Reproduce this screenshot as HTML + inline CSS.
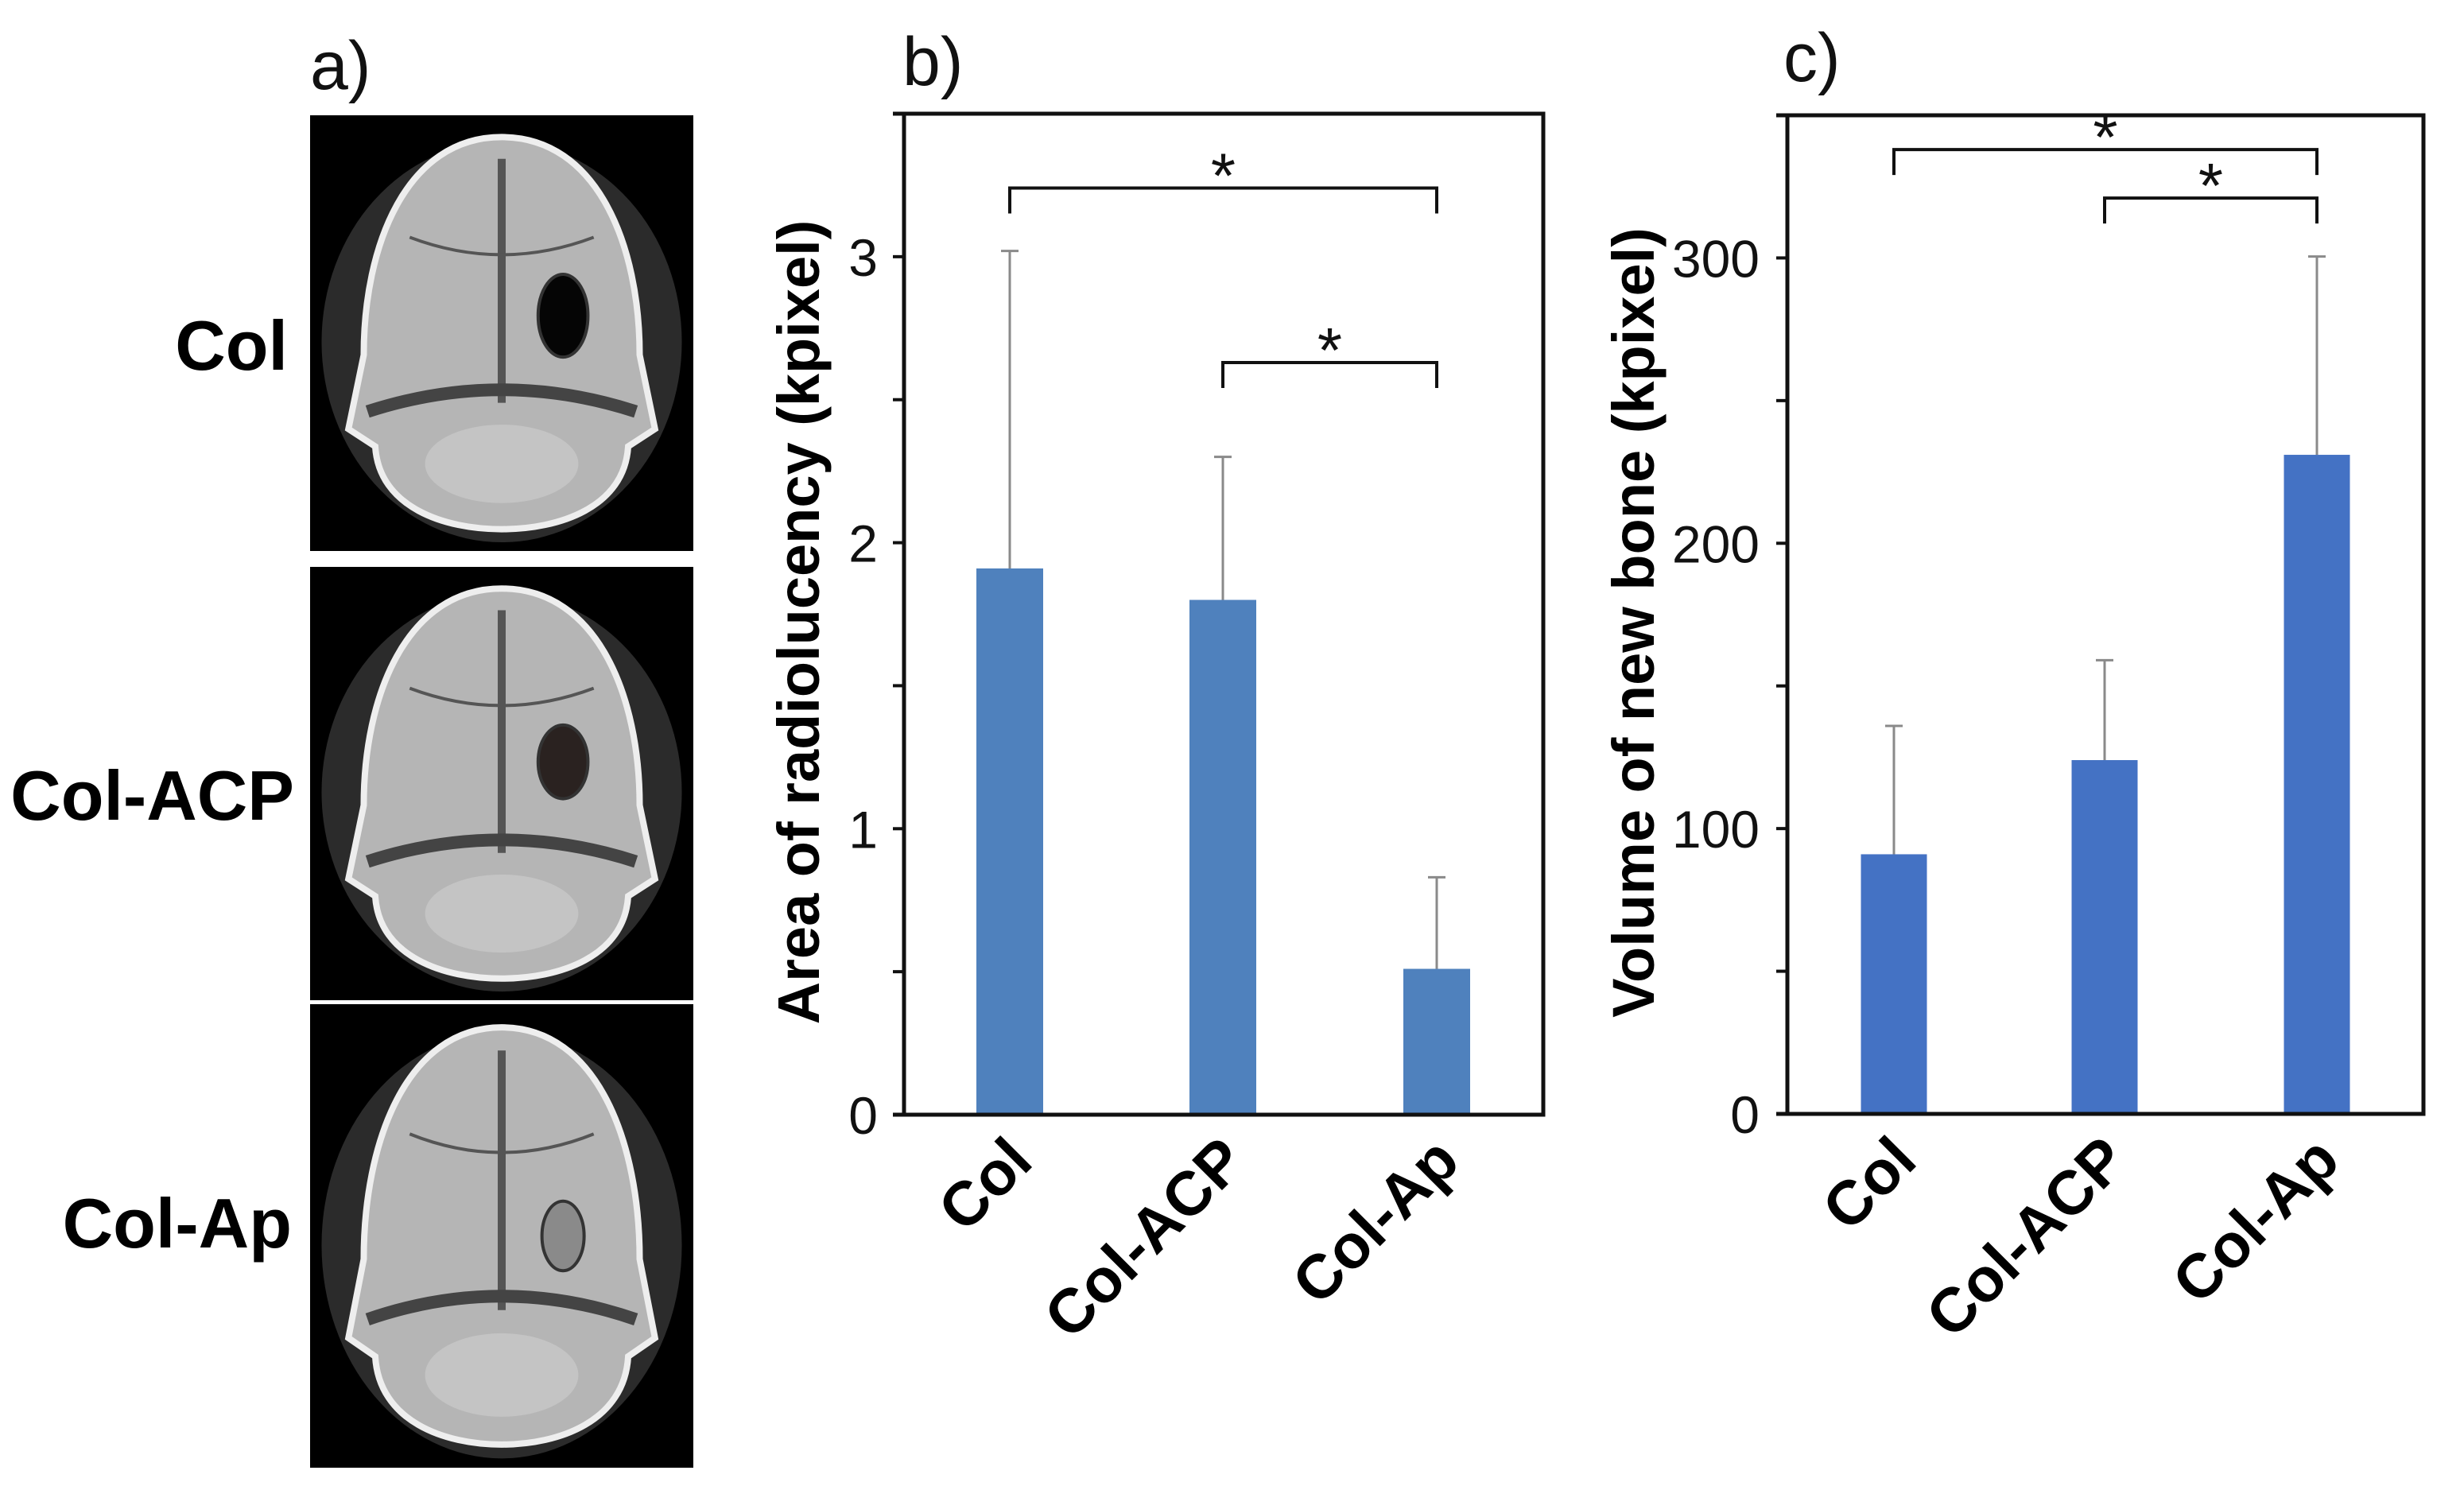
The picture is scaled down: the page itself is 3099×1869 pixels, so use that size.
<!DOCTYPE html>
<html><head><meta charset="utf-8"><style>
html,body{margin:0;padding:0;background:#fff;}
svg{display:block;}
text{font-family:"Liberation Sans",Arial,sans-serif;}
</style></head><body>
<svg id="fig" width="3099" height="1869" viewBox="0 0 3099 1869" xmlns="http://www.w3.org/2000/svg">
<rect width="3099" height="1869" fill="#fff"/>
<g id="panelA">
  <text x="390" y="112" font-size="86" fill="#111">a)</text>
  <text x="362" y="465" font-size="88" font-weight="bold" text-anchor="end" fill="#000">Col</text>
  <text x="370" y="1031" font-size="88" font-weight="bold" text-anchor="end" fill="#000">Col-ACP</text>
  <text x="367" y="1569" font-size="88" font-weight="bold" text-anchor="end" fill="#000">Col-Ap</text>
</g>
<g id="chartB"></g>
<g id="chartC"></g>
</svg>
<script>
const NS='http://www.w3.org/2000/svg';
function mk(tag,attrs,parent){const e=document.createElementNS(NS,tag);for(const k in attrs)e.setAttribute(k,attrs[k]);parent.appendChild(e);return e;}

// ---- photos (panel a) ----
const photoBoxes=[[390,145,482,548,'photo-col',0.66,0.46,0.13,0.19,'#050505'],[390,713,482,545,'photo-col-acp',0.66,0.45,0.13,0.17,'#2a2220'],[390,1263,482,583,'photo-col-ap',0.66,0.50,0.11,0.15,'#8a8a8a']];
const pa=document.getElementById('panelA');
photoBoxes.forEach(p=>{
  const [x,y,w,h,name,hx,hy,hw,hh,hc]=p;
  const g=mk('g',{transform:`translate(${x},${y})`},pa);
  
  
  mk('rect',{x:0,y:0,width:w,height:h,fill:'#000'},g);
  mk('ellipse',{cx:w*0.5,cy:h*0.52,rx:w*0.47,ry:h*0.46,fill:'#2b2b2b'},g);
  const d=`M${w*0.5},${h*0.05} C${w*0.75},${h*0.05} ${w*0.86},${h*0.3} ${w*0.86},${h*0.55} L${w*0.9},${h*0.72} L${w*0.83},${h*0.76} C${w*0.82},${h*0.9} ${w*0.65},${h*0.95} ${w*0.5},${h*0.95} C${w*0.35},${h*0.95} ${w*0.18},${h*0.9} ${w*0.17},${h*0.76} L${w*0.1},${h*0.72} L${w*0.14},${h*0.55} C${w*0.14},${h*0.3} ${w*0.25},${h*0.05} ${w*0.5},${h*0.05} Z`;
  mk('path',{d:d,fill:'#b5b5b5',stroke:'#eee','stroke-width':8},g);
  mk('path',{d:`M${w*0.5},${h*0.1} L${w*0.5},${h*0.66}`,stroke:'#555','stroke-width':10,fill:'none'},g);
  mk('path',{d:`M${w*0.26},${h*0.28} Q${w*0.5},${h*0.36} ${w*0.74},${h*0.28}`,stroke:'#555','stroke-width':4,fill:'none'},g);
  mk('path',{d:`M${w*0.15},${h*0.68} Q${w*0.5},${h*0.58} ${w*0.85},${h*0.68}`,stroke:'#444','stroke-width':16,fill:'none'},g);
  mk('ellipse',{cx:w*0.5,cy:h*0.8,rx:w*0.2,ry:h*0.09,fill:'#c4c4c4'},g);
  mk('ellipse',{cx:w*hx,cy:h*hy,rx:w*hw/2,ry:h*hh/2,fill:hc,stroke:'#333','stroke-width':4},g);
});

// ---- chart b data ----
const catsB=['Col','Col-ACP','Col-Ap'];
const valsB=[1.91,1.80,0.51];
const errB=[3.02,2.30,0.83];
const ticksB=[0,1,2,3];
const minorB=[0.5,1.5,2.5];
const sigB=[[0,2,3.24,'*'],[1,2,2.63,'*']];

// ---- chart c data ----
const catsC=['Col','Col-ACP','Col-Ap'];
const valsC=[91,124,231];
const errC=[136,159,300.5];
const ticksC=[0,100,200,300];
const minorC=[50,150,250];
const sigC=[[0,2,338,'*'],[1,2,321,'*']];

function drawChart(gid,cfg){
  const g=document.getElementById(gid);
  const {left,right,top,bottom,ymax,cats,vals,errs,ticks,minor,sig,color,title,titleX,label,labelX,tickRight,centers,barW}=cfg;
  const y=v=>bottom-(v/ymax)*(bottom-top);
  const t=mk('text',{x:labelX,y:cfg.labelY,'font-size':86,fill:'#111'},g);
  t.textContent=label;
  
  
  cats.forEach((c,i)=>{
    const cx=centers[i];
    const b=mk('rect',{x:cx-barW/2,y:y(vals[i]),width:barW,height:bottom-y(vals[i]),fill:color},g);
    
    
    const e=mk('path',{d:`M${cx},${y(vals[i])} L${cx},${y(errs[i])} M${cx-11},${y(errs[i])} L${cx+11},${y(errs[i])}`,stroke:'#8a8a8a','stroke-width':3,fill:'none'},g);
    
    
    const xl=mk('text',{x:0,y:0,'font-size':78,'font-weight':'bold','text-anchor':'end',fill:'#000',transform:`translate(${cx+32},${bottom+62}) rotate(-45)`},g);
    xl.textContent=c;
    
    
  });
  const ax=mk('path',{d:`M${left},${top} L${right},${top} L${right},${bottom} L${left-14},${bottom} M${left},${bottom} L${left},${top} M${left-14},${top} L${left},${top}`,stroke:'#111','stroke-width':5,fill:'none'},g);
  
  
  ticks.concat(minor).forEach(v=>{
    const tk=mk('line',{x1:left-14,x2:left,y1:y(v),y2:y(v),stroke:'#111','stroke-width':4},g);
    
    
  });
  ticks.forEach(v=>{
    const tl=mk('text',{x:tickRight,y:y(v)+24,'font-size':66,'text-anchor':'end',fill:'#111'},g);
    tl.textContent=v;
    
    
  });
  sig.forEach(s=>{
    const x1=centers[s[0]],x2=centers[s[1]],yy=y(s[2]);
    const br=mk('path',{d:`M${x1},${yy+32} L${x1},${yy} L${x2},${yy} L${x2},${yy+32}`,stroke:'#111','stroke-width':4,fill:'none'},g);
    
    
    const st=mk('text',{x:(x1+x2)/2,y:yy+12,'font-size':80,'text-anchor':'middle',fill:'#111'},g);
    st.textContent=s[3];
    
    
  });
  const yt=mk('text',{x:0,y:0,'font-size':74,'font-weight':'bold','text-anchor':'middle',fill:'#000',transform:`translate(${titleX},${(top+bottom)/2+10}) rotate(-90)`},g);
  yt.textContent=title;
  
  
}
drawChart('chartB',{left:1137,right:1941,top:143,bottom:1402,ymax:3.5,cats:catsB,vals:valsB,errs:errB,ticks:ticksB,minor:minorB,sig:sigB,color:'#4f81bd',title:'Area of radiolucency (kpixel)',titleX:1030,label:'b)',labelX:1135,labelY:107,tickRight:1104,centers:[1270,1538,1807],barW:84});
drawChart('chartC',{left:2248,right:3048,top:145,bottom:1401,ymax:350,cats:catsC,vals:valsC,errs:errC,ticks:ticksC,minor:minorC,sig:sigC,color:'#4472c4',title:'Volume of new bone (kpixel)',titleX:2080,label:'c)',labelX:2243,labelY:102,tickRight:2213,centers:[2382,2647,2914],barW:83});
</script>
</body></html>
